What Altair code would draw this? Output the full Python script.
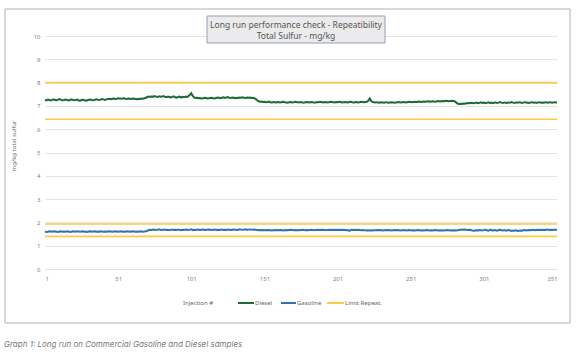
import altair as alt
import pandas as pd

# ---------------- data ----------------
injection = list(range(1, 352))

diesel = [
    7.26, 7.24, 7.27, 7.25, 7.23, 7.26, 7.28, 7.25, 7.24, 7.27, 7.29, 7.26, 7.24, 7.25, 7.27, 7.26, 7.23, 7.25, 7.28, 7.26,
    7.24, 7.25, 7.27, 7.23, 7.22, 7.25, 7.26, 7.24, 7.22, 7.24, 7.26, 7.27, 7.25, 7.24, 7.26, 7.28, 7.27, 7.25, 7.27, 7.29,
    7.28, 7.26, 7.28, 7.30, 7.31, 7.29, 7.31, 7.32, 7.30, 7.31, 7.33, 7.32, 7.31, 7.32, 7.33, 7.31, 7.30, 7.32, 7.31, 7.30,
    7.32, 7.31, 7.30, 7.29, 7.31, 7.30, 7.32, 7.31, 7.33, 7.35, 7.38, 7.40, 7.38, 7.41, 7.39, 7.42, 7.40, 7.38, 7.41, 7.39,
    7.40, 7.42, 7.39, 7.37, 7.40, 7.38, 7.36, 7.39, 7.41, 7.37, 7.35, 7.38, 7.40, 7.36, 7.39, 7.37, 7.40, 7.38, 7.42, 7.47,
    7.54, 7.43, 7.36, 7.34, 7.35, 7.33, 7.34, 7.32, 7.33, 7.35, 7.34, 7.32, 7.33, 7.34, 7.35, 7.33, 7.32, 7.34, 7.36, 7.35,
    7.33, 7.35, 7.37, 7.34, 7.36, 7.38, 7.35, 7.34, 7.36, 7.35, 7.33, 7.35, 7.34, 7.36, 7.35, 7.37, 7.35, 7.34, 7.36, 7.35,
    7.36, 7.34, 7.35, 7.33, 7.30, 7.24, 7.20, 7.18, 7.19, 7.17, 7.18, 7.16, 7.17, 7.19, 7.16, 7.15, 7.17, 7.16, 7.15, 7.17,
    7.16, 7.15, 7.17, 7.18, 7.16, 7.15, 7.14, 7.16, 7.17, 7.15, 7.16, 7.18, 7.17, 7.15, 7.16, 7.17, 7.15, 7.14, 7.16, 7.17,
    7.16, 7.15, 7.17, 7.16, 7.14, 7.15, 7.17, 7.16, 7.18, 7.17, 7.15, 7.16, 7.17, 7.15, 7.16, 7.18, 7.17, 7.16, 7.15, 7.17,
    7.16, 7.18, 7.17, 7.15, 7.16, 7.17, 7.16, 7.15, 7.17, 7.18, 7.16, 7.15, 7.16, 7.17, 7.15, 7.16, 7.18, 7.17, 7.16, 7.17,
    7.18, 7.22, 7.32, 7.21, 7.17, 7.16, 7.15, 7.16, 7.14, 7.15, 7.16, 7.15, 7.14, 7.16, 7.15, 7.14, 7.15, 7.16, 7.15, 7.14,
    7.15, 7.16, 7.17, 7.15, 7.16, 7.17, 7.16, 7.15, 7.17, 7.18, 7.17, 7.16, 7.17, 7.18, 7.17, 7.18, 7.19, 7.17, 7.18, 7.19,
    7.18, 7.19, 7.20, 7.18, 7.19, 7.20, 7.19, 7.18, 7.20, 7.21, 7.19, 7.20, 7.21, 7.20, 7.22, 7.21, 7.20, 7.21, 7.22, 7.21,
    7.20, 7.15, 7.10, 7.08, 7.09, 7.08, 7.10, 7.09, 7.11, 7.12, 7.11, 7.13, 7.12, 7.11, 7.13, 7.14, 7.12, 7.13, 7.15, 7.13,
    7.14, 7.12, 7.13, 7.15, 7.13, 7.14, 7.12, 7.14, 7.15, 7.13, 7.14, 7.16, 7.14, 7.13, 7.15, 7.14, 7.13, 7.15, 7.14, 7.16,
    7.14, 7.13, 7.15, 7.14, 7.16, 7.15, 7.13, 7.14, 7.16, 7.15, 7.14, 7.13, 7.15, 7.16, 7.14, 7.15, 7.13, 7.15, 7.16, 7.14,
    7.15, 7.14, 7.16, 7.15, 7.14, 7.16, 7.15, 7.14, 7.16, 7.15, 7.16,
]

gasoline = [
    1.61, 1.59, 1.60, 1.62, 1.61, 1.60, 1.62, 1.61, 1.60, 1.59, 1.61, 1.62, 1.60, 1.61, 1.60, 1.62, 1.61, 1.59, 1.60, 1.62,
    1.61, 1.60, 1.62, 1.61, 1.60, 1.61, 1.62, 1.60, 1.61, 1.59, 1.61, 1.62, 1.60, 1.61, 1.62, 1.60, 1.61, 1.60, 1.62, 1.61,
    1.60, 1.61, 1.60, 1.61, 1.62, 1.61, 1.60, 1.61, 1.62, 1.61, 1.60, 1.61, 1.62, 1.60, 1.61, 1.60, 1.62, 1.61, 1.60, 1.61,
    1.62, 1.61, 1.60, 1.61, 1.60, 1.62, 1.61, 1.60, 1.61, 1.62, 1.64, 1.67, 1.68, 1.67, 1.69, 1.68, 1.67, 1.69, 1.70, 1.68,
    1.67, 1.68, 1.69, 1.67, 1.68, 1.66, 1.68, 1.69, 1.67, 1.68, 1.67, 1.69, 1.68, 1.66, 1.68, 1.67, 1.69, 1.68, 1.67, 1.69,
    1.70, 1.67, 1.68, 1.67, 1.69, 1.68, 1.67, 1.68, 1.69, 1.68, 1.67, 1.68, 1.69, 1.68, 1.67, 1.68, 1.69, 1.67, 1.68, 1.67,
    1.68, 1.69, 1.67, 1.68, 1.67, 1.69, 1.68, 1.67, 1.68, 1.69, 1.68, 1.67, 1.68, 1.70, 1.69, 1.68, 1.69, 1.70, 1.68, 1.69,
    1.70, 1.69, 1.68, 1.69, 1.68, 1.67, 1.66, 1.67, 1.66, 1.67, 1.66, 1.67, 1.66, 1.67, 1.66, 1.65, 1.66, 1.67, 1.66, 1.67,
    1.66, 1.67, 1.66, 1.65, 1.66, 1.67, 1.66, 1.67, 1.68, 1.67, 1.66, 1.67, 1.66, 1.67, 1.66, 1.67, 1.68, 1.67, 1.66, 1.67,
    1.66, 1.67, 1.68, 1.67, 1.66, 1.67, 1.68, 1.67, 1.68, 1.67, 1.68, 1.67, 1.66, 1.67, 1.68, 1.67, 1.68, 1.67, 1.68, 1.67,
    1.68, 1.67, 1.68, 1.67, 1.68, 1.67, 1.66, 1.67, 1.64, 1.67, 1.68, 1.67, 1.68, 1.67, 1.68, 1.67, 1.66, 1.67, 1.66, 1.66,
    1.65, 1.66, 1.65, 1.66, 1.65, 1.66, 1.66, 1.67, 1.66, 1.67, 1.66, 1.65, 1.66, 1.67, 1.66, 1.67, 1.66, 1.65, 1.66, 1.67,
    1.66, 1.67, 1.66, 1.65, 1.66, 1.67, 1.66, 1.65, 1.66, 1.67, 1.66, 1.65, 1.66, 1.65, 1.66, 1.67, 1.66, 1.65, 1.66, 1.65,
    1.66, 1.67, 1.66, 1.65, 1.66, 1.65, 1.66, 1.67, 1.66, 1.65, 1.66, 1.65, 1.66, 1.65, 1.66, 1.67, 1.66, 1.65, 1.66, 1.65,
    1.66, 1.65, 1.66, 1.67, 1.68, 1.69, 1.68, 1.69, 1.68, 1.67, 1.68, 1.67, 1.65, 1.64, 1.65, 1.66, 1.65, 1.67, 1.66, 1.65,
    1.67, 1.69, 1.66, 1.64, 1.67, 1.68, 1.65, 1.67, 1.66, 1.64, 1.67, 1.68, 1.66, 1.65, 1.67, 1.64, 1.66, 1.67, 1.65, 1.63,
    1.65, 1.64, 1.66, 1.63, 1.64, 1.65, 1.64, 1.66, 1.67, 1.65, 1.66, 1.67, 1.66, 1.68, 1.67, 1.66, 1.67, 1.68, 1.67, 1.68,
    1.67, 1.68, 1.67, 1.69, 1.68, 1.67, 1.68, 1.67, 1.68, 1.68, 1.67,
]

series_names = ["Diesel", "Gasoline", "Limit Repeat."]
series_colors = ["#1d6b33", "#2f72b5", "#ffc845"]
limit_values = [8.0, 6.43, 1.93, 1.40]
x_ticks = [1, 51, 101, 151, 201, 251, 301, 351]
y_ticks = list(range(0, 11))

title_lines = ["Long run performance check - Repeatibility", "Total Sulfur - mg/kg"]
y_title = "mg/kg total sulfur"
x_title = "Injection #"
caption = "Graph 1: Long run on Commercial Gasoline and Diesel samples"

# ---------------- chart ----------------
W, H = 512, 233
FONT = "Noto Sans"
GRAY = "#7f7f7f"

df = pd.DataFrame({
    "Injection": injection * 2,
    "Value": diesel + gasoline,
    "Series": ["Diesel"] * len(diesel) + ["Gasoline"] * len(gasoline),
})
df_lim = pd.DataFrame({"Limit": limit_values})
one = pd.DataFrame({"a": [0]})

y_scale = alt.Scale(domain=[0, 10], nice=False)
y_axis = alt.Axis(values=y_ticks, title=None, grid=True, gridColor="#e4e4e4", gridWidth=1,
                  domain=False, ticks=False, labelFontSize=6, labelColor=GRAY,
                  labelFont=FONT, labelPadding=5, labelOverlap=False, tickCount=11)

x_enc = alt.X(
    "Injection:Q",
    scale=alt.Scale(domain=[1, 351], nice=False, zero=False),
    axis=alt.Axis(values=x_ticks, title=None, grid=False, domain=False, ticks=False,
                  labelFontSize=6, labelColor=GRAY, labelFont=FONT, labelPadding=6,
                  labelOverlap=False),
)

lines = alt.Chart(df).mark_line(strokeWidth=2).encode(
    x=x_enc,
    y=alt.Y("Value:Q", scale=y_scale, axis=y_axis),
    color=alt.Color("Series:N", scale=alt.Scale(domain=series_names[:2], range=series_colors[:2]), legend=None),
    detail="Series:N",
)

limits = alt.Chart(df_lim).mark_rule(color=series_colors[2], strokeWidth=1.6).encode(
    y=alt.Y("Limit:Q", scale=y_scale, axis=y_axis)
)

border = alt.Chart(one).mark_rect(fill=None, stroke="#b0b0b0", strokeWidth=1).encode(
    x=alt.value(-40), x2=alt.value(525), y=alt.value(-27), y2=alt.value(287)
)

title_box = alt.Chart(one).mark_rect(fill="#ebebeb", stroke="#8fa0bb", strokeWidth=1).encode(
    x=alt.value(162), x2=alt.value(340), y=alt.value(-20), y2=alt.value(7)
)
title_texts = [
    alt.Chart(one).mark_text(text=t, font=FONT, fontSize=8.5, color="#555555",
                             align="center", baseline="middle").encode(
        x=alt.value(251), y=alt.value(yy))
    for t, yy in zip(title_lines, [-11, 0])
]

ytitle = alt.Chart(one).mark_text(text=y_title, font=FONT, fontSize=6, color="#666666",
                                  angle=270, align="center", baseline="middle").encode(
    x=alt.value(-31), y=alt.value(110))

xtitle = alt.Chart(one).mark_text(text=x_title, font=FONT, fontSize=6, color="#666666",
                                  align="center", baseline="middle").encode(
    x=alt.value(153), y=alt.value(267))

legend_layers = []
for name, col, (x0, x1) in zip(series_names, series_colors, [(193, 209), (236, 251), (282, 299)]):
    legend_layers.append(
        alt.Chart(one).mark_rule(color=col, strokeWidth=2).encode(
            x=alt.value(x0), x2=alt.value(x1), y=alt.value(267))
    )
    legend_layers.append(
        alt.Chart(one).mark_text(text=name, font=FONT, fontSize=6, color="#666666",
                                 align="left", baseline="middle").encode(
            x=alt.value(x1 + 1), y=alt.value(267))
    )

cap = alt.Chart(one).mark_text(text=caption, font="Inter", fontStyle="italic", fontSize=8,
                               fontWeight="normal", color="#7a7a7a", align="left",
                               baseline="middle").encode(
    x=alt.value(-41), y=alt.value(309))

chart = alt.layer(
    border, limits, lines, title_box, *title_texts, ytitle, xtitle, *legend_layers, cap
).properties(
    width=W, height=H,
    autosize=alt.AutoSizeParams(type="none"),
    padding={"left": 45, "top": 36, "right": 23, "bottom": 86},
    background="white",
).configure_view(stroke=None)

chart.save("out.html", embed_options={"renderer": "svg", "actions": False})
